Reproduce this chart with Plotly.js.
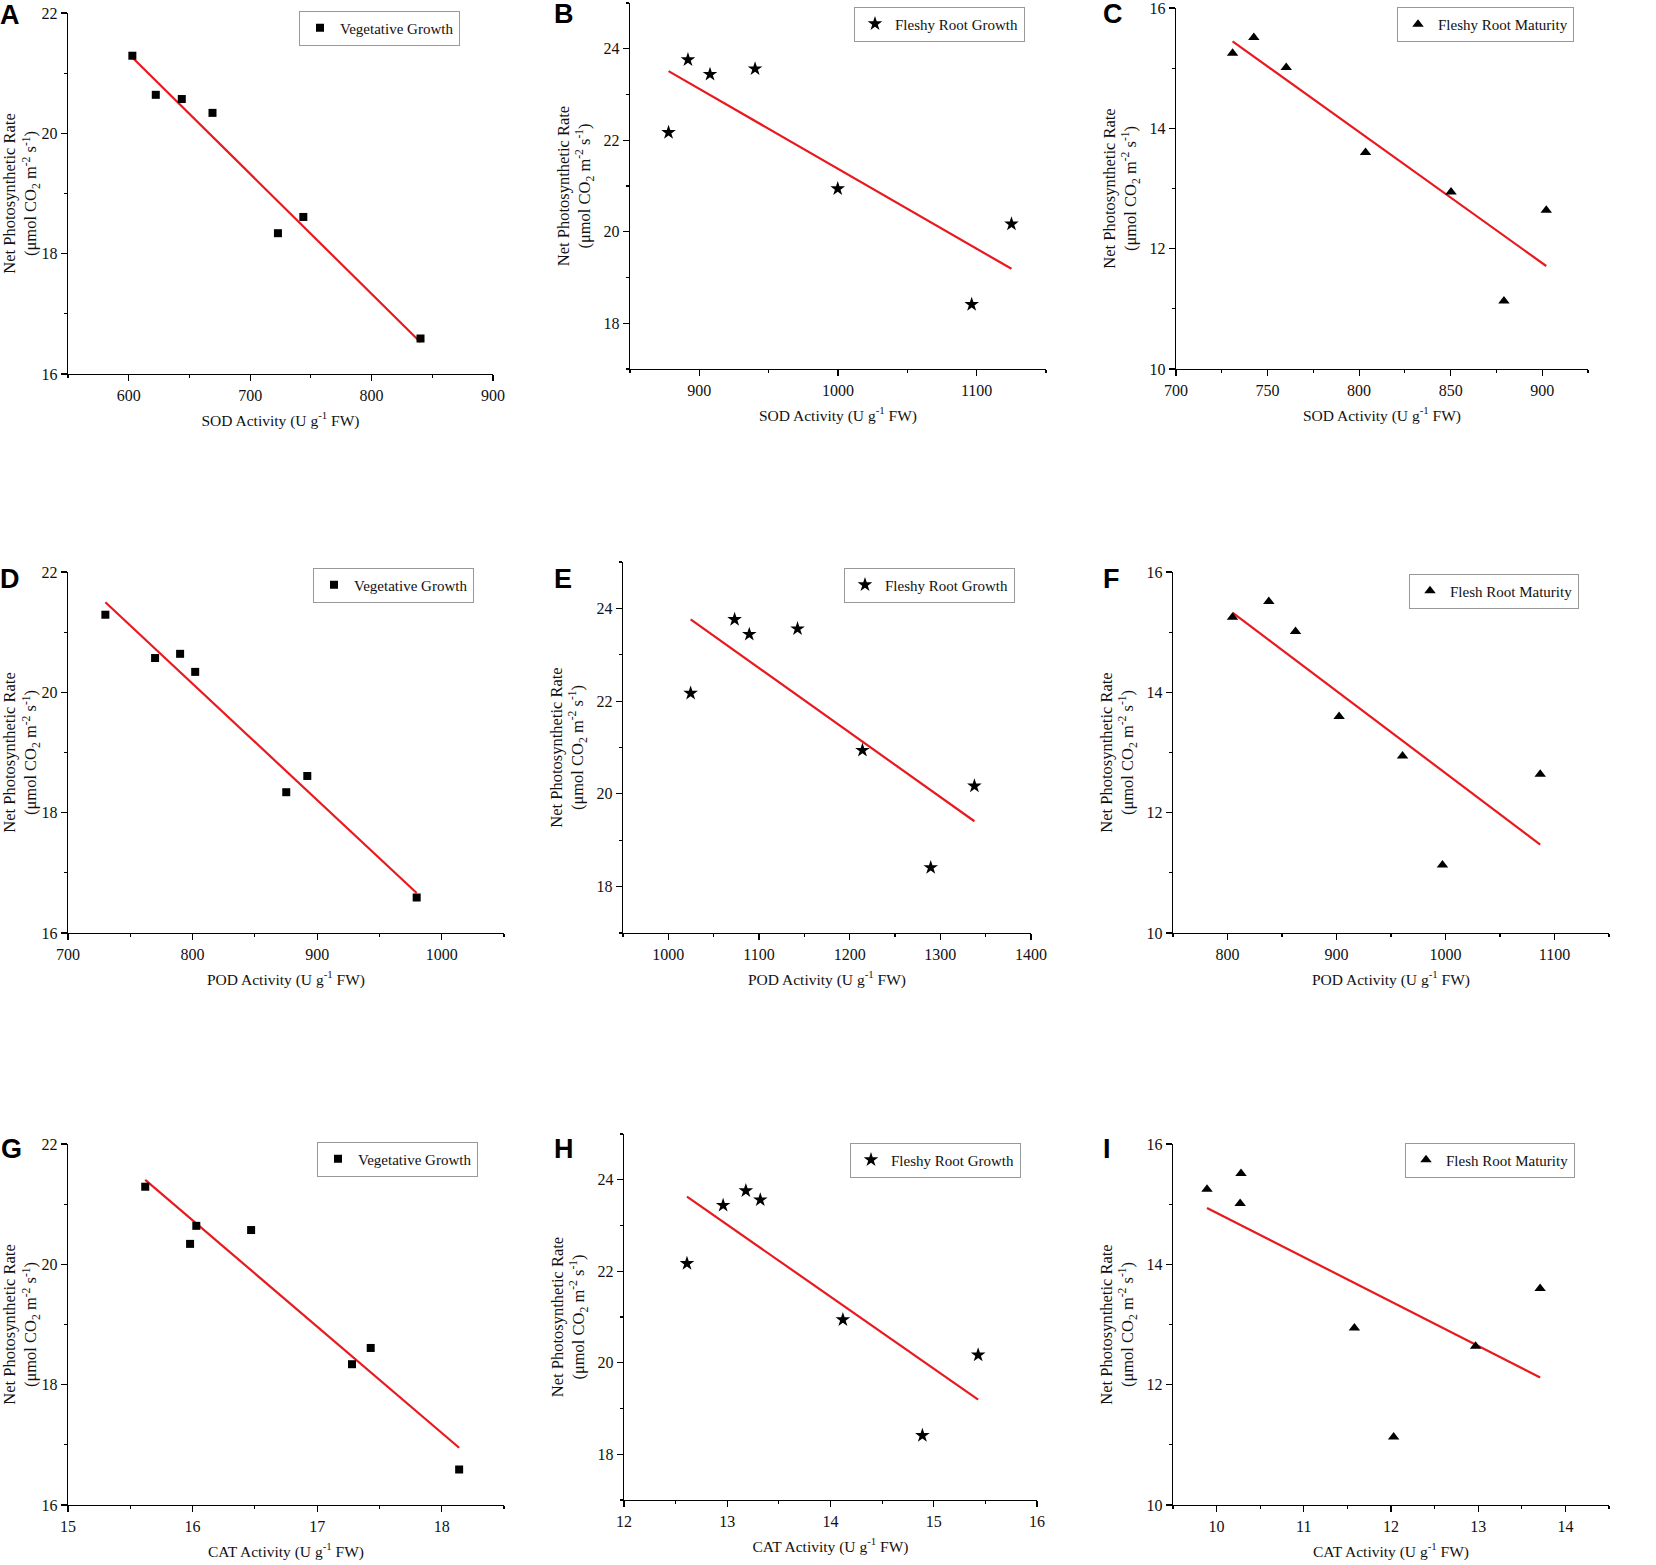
<!DOCTYPE html>
<html>
<head>
<meta charset="utf-8">
<script src="https://cdn.plot.ly/plotly-3.0.1.min.js"></script>
<style>
  body { margin: 0; background: #fff; }
  #chart { width: 1656px; height: 1565px; }
</style>
</head>
<body>
<div id="chart"></div>
<script>
// Net photosynthetic rate per growth stage (same 7 samples in every column)
var pnVeg = [21.29, 20.64, 20.57, 20.34, 18.34, 18.61, 16.59];
var pnRoot = [22.17, 23.76, 23.44, 23.56, 20.94, 18.41, 20.17];
var pnMat = [15.25, 15.51, 15.01, 13.60, 12.94, 11.13, 12.64];

// SOD activity
var sodVeg = [603.0, 622.3, 643.7, 669.0, 722.9, 743.8, 840.3];
var sodRoot = [877.8, 891.8, 907.7, 940.2, 999.8, 1096.4, 1125.1];
var sodMat = [730.9, 742.5, 760.2, 803.5, 850.2, 879.1, 902.2];

// POD activity
var podVeg = [730.0, 790.0, 769.9, 802.1, 875.2, 892.1, 979.9];
var podRoot = [1024.6, 1073.1, 1089.3, 1142.5, 1214.1, 1289.4, 1337.6];
var podMat = [804.6, 837.9, 862.4, 902.4, 960.6, 997.2, 1086.9];

// CAT activity
var catVeg = [15.62, 16.03, 16.47, 15.98, 17.28, 17.43, 18.14];
var catRoot = [12.61, 13.18, 12.96, 13.32, 14.12, 14.89, 15.43];
var catMat = [9.89, 10.28, 10.27, 13.71, 11.58, 12.03, 12.97];

// Labels
var panelLetters = ["A", "B", "C", "D", "E", "F", "G", "H", "I"];
var seriesNames = ["Vegetative Growth", "Fleshy Root Growth", "Fleshy Root Maturity",
                   "Vegetative Growth", "Fleshy Root Growth", "Flesh Root Maturity",
                   "Vegetative Growth", "Fleshy Root Growth", "Flesh Root Maturity"];
var xTitles = ["SOD Activity (U g<sup>-1</sup> FW)", "POD Activity (U g<sup>-1</sup> FW)", "CAT Activity (U g<sup>-1</sup> FW)"];
var yTitle = "Net Photosynthetic Rate<br>(μmol CO<sub>2</sub> m<sup>-2</sup> s<sup>-1</sup>)";

var xData = [sodVeg, sodRoot, sodMat, podVeg, podRoot, podMat, catVeg, catRoot, catMat];
var yData = [pnVeg, pnRoot, pnMat, pnVeg, pnRoot, pnMat, pnVeg, pnRoot, pnMat];
var symbols = ["square", "star", "triangle-up"];
var markerSizes = [8, 11, 10];

// Axis settings: [min, max, dtick]
var xAxes = [[550, 900, 100], [850, 1150, 100], [700, 925, 50],
             [700, 1050, 100], [950, 1400, 100], [750, 1150, 100],
             [15, 18.5, 1], [12, 16, 1], [9.5, 14.5, 1]];
var yAxes = [[16, 22], [17, 25], [10, 16]];

// Plot areas in page pixels: left, right, top, bottom
var W = 1656, H = 1565;
var boxes = [
    [68, 493, 13, 374], [630, 1046, 3, 369], [1176, 1588, 8, 369],
    [68, 504, 572, 933], [623, 1031, 562, 933], [1173, 1609, 572, 933],
    [68, 504, 1144, 1505], [624, 1037, 1134, 1500], [1173, 1609, 1144, 1505]
];
// legend left edge and vertical centre
var legendPos = [
    [299, 28], [854, 24], [1397, 24.5],
    [313, 585], [844, 585], [1409, 591],
    [317, 1159], [850, 1160], [1405, 1160]
];
// panel letters (centre)
var letterPos = [
    [10, 15], [564, 14], [1113, 14],
    [10, 579], [563, 579], [1111, 579],
    [11, 1149], [564, 1149], [1107, 1149]
];

var serif = "Liberation Serif, Times New Roman, serif";

function fitLine(x, y) {
    var n = x.length, mx = 0, my = 0;
    for (var i = 0; i < n; i++) { mx += x[i]; my += y[i]; }
    mx /= n; my /= n;
    var sxy = 0, sxx = 0;
    for (var i = 0; i < n; i++) {
        sxy += (x[i] - mx) * (y[i] - my);
        sxx += (x[i] - mx) * (x[i] - mx);
    }
    var b = sxy / sxx, a = my - b * mx;
    var x0 = Math.min.apply(null, x), x1 = Math.max.apply(null, x);
    return { x: [x0, x1], y: [a + b * x0, a + b * x1] };
}

var traces = [];
var layout = {
    width: W, height: H,
    margin: { l: 0, r: 0, t: 0, b: 0 },
    paper_bgcolor: "#fff", plot_bgcolor: "#fff",
    font: { family: serif, size: 16, color: "#000" },
    annotations: []
};

for (var i = 0; i < 9; i++) {
    var s = i == 0 ? "" : String(i + 1);
    var col = i % 3, row = Math.floor(i / 3);
    var fit = fitLine(xData[i], yData[i]);

    traces.push({
        x: fit.x, y: fit.y, type: "scatter", mode: "lines",
        line: { color: "#e8191f", width: 2.2 },
        xaxis: "x" + s, yaxis: "y" + s, showlegend: false, hoverinfo: "skip"
    });
    traces.push({
        x: xData[i], y: yData[i], type: "scatter", mode: "markers",
        name: seriesNames[i],
        marker: { symbol: symbols[col], size: markerSizes[col], color: "#000" },
        xaxis: "x" + s, yaxis: "y" + s, legend: "legend" + s
    });

    var b = boxes[i];
    var xa = xAxes[i], ya = yAxes[col];
    var common = {
        showline: true, linecolor: "#000", linewidth: 1.3,
        ticks: "outside", ticklen: 6, tickwidth: 1.2, tickcolor: "#000",
        showgrid: false, zeroline: false, ticklabeloverflow: "allow",
        tickfont: { family: serif, size: 16, color: "#111" }
    };
    layout["xaxis" + s] = Object.assign({}, common, {
        domain: [b[0] / W, b[1] / W], anchor: "y" + s,
        range: [xa[0], xa[1]], tick0: 0, dtick: xa[2],
        minor: { ticks: "outside", ticklen: 3, dtick: xa[2] / 2, tick0: 0, tickcolor: "#000", showgrid: false },
        title: { text: xTitles[row], font: { family: serif, size: 15.5, color: "#111" }, standoff: 12 }
    });
    layout["yaxis" + s] = Object.assign({}, common, {
        domain: [1 - b[3] / H, 1 - b[2] / H], anchor: "x" + s,
        range: [ya[0], ya[1]], tick0: 0, dtick: 2,
        minor: { ticks: "outside", ticklen: 3, dtick: 1, tick0: 0, tickcolor: "#000", showgrid: false },
        title: { text: yTitle, font: { family: serif, size: 16.5, color: "#111" }, standoff: 8 }
    });
    layout["legend" + s] = {
        x: legendPos[i][0] / W, y: 1 - legendPos[i][1] / H,
        xanchor: "left", yanchor: "middle",
        bordercolor: "#999", borderwidth: 1, bgcolor: "rgba(255,255,255,0)",
        font: { family: serif, size: 15, color: "#111" },
        tracegroupgap: 0
    };
    layout.annotations.push({
        text: "<b>" + panelLetters[i] + "</b>", showarrow: false,
        xref: "paper", yref: "paper",
        x: letterPos[i][0] / W, y: 1 - letterPos[i][1] / H,
        xanchor: "center", yanchor: "middle",
        font: { family: "Liberation Sans, Arial, sans-serif", size: 27, color: "#000" }
    });
}

Plotly.newPlot("chart", traces, layout, { staticPlot: true });
</script>
</body>
</html>
